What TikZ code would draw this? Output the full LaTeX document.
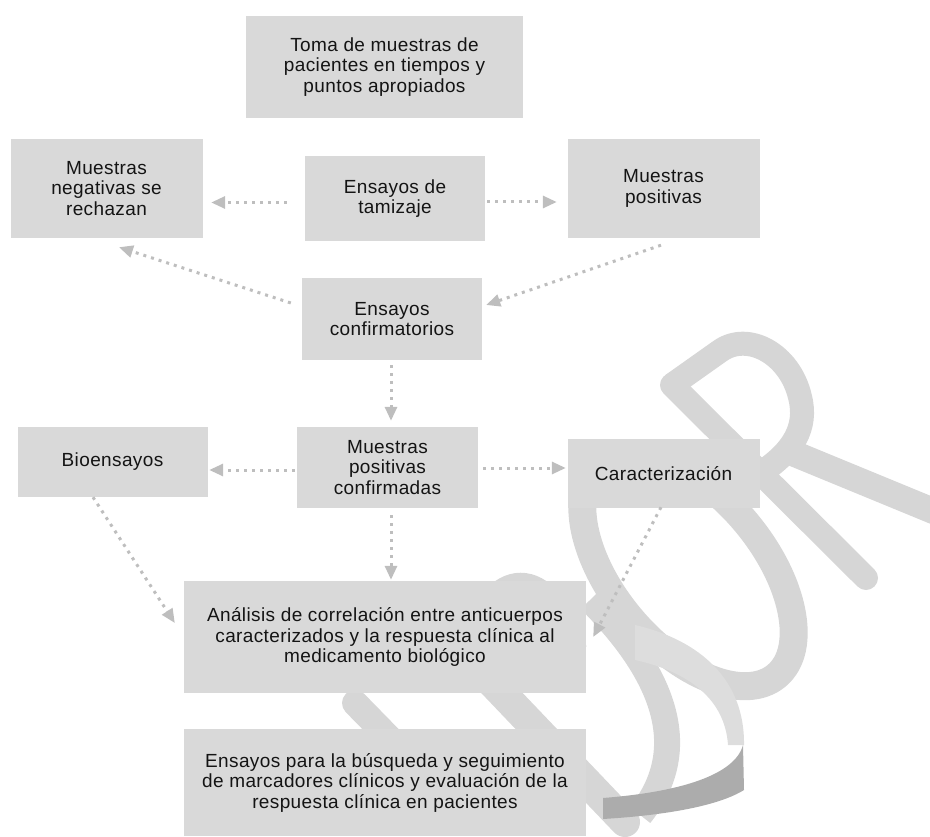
\documentclass[tikz,border=0pt]{standalone}
\usepackage{fontspec}
\setmainfont[LetterSpace=2]{Liberation Sans}
\usetikzlibrary{arrows.meta,calc}
\definecolor{boxgray}{RGB}{217,217,217}
\definecolor{arrgray}{RGB}{190,190,190}
\definecolor{wmgray}{RGB}{214,214,214}
\definecolor{wmlight}{RGB}{221,221,221}
\definecolor{wmdark}{RGB}{172,172,172}
\definecolor{txtcol}{RGB}{20,20,20}
\tikzset{
  box/.style={rectangle, fill=boxgray, inner sep=0pt, align=center, text=txtcol,
    font=\fontsize{19}{20.5}\selectfont},
  arr/.style={draw=arrgray, line width=3pt, dash pattern=on 3pt off 5pt,
    -{Triangle[length=14pt,width=12pt,fill=arrgray]}},
  wm/.style={draw=wmgray, line width=26pt}
}
\begin{document}
\begin{tikzpicture}[x=1pt,y=-1pt]
\useasboundingbox (0,0) rectangle (930,837);
% watermark
\begin{scope}
\clip (0,0) rectangle (930,837);
\draw[wm, line width=28pt, rotate around={-50:(688,570)}] (688,570) ellipse [x radius=138, y radius=75];
\draw[wm, line width=24pt, line cap=round] (672,385) -- (866,578);
\draw[wm, line width=24pt, line join=round] (672,385) -- (720,351) .. controls (748,331) and (790,354) .. (800,397) .. controls (808,428) and (792,452) .. (762,472);
\draw[wm, line width=26pt] (790,452) -- (960,522);
\draw[wm, line width=26pt, line cap=round] (355,703) -- (440,790);
\draw[wm, line width=30pt, line cap=round] (480,670) -- (625,822);
\draw[wm, line width=24pt] (470,650) .. controls (490,563) and (550,563) .. (575,650);
\draw[wm, line width=26pt] (590,600) .. controls (650,660) and (700,740) .. (640,815);
\fill[wmlight] (635,625) .. controls (700,640) and (745,680) .. (744,745) -- (728,745) .. controls (725,700) and (690,672) .. (635,660) -- cycle;
\fill[wmdark] (603,798) .. controls (680,792) and (735,775) .. (743,745) -- (744,790) .. controls (720,805) and (670,815) .. (603,819) -- cycle;
\end{scope}
% boxes
\node[box, minimum width=277pt, minimum height=102pt] (top) at (384.5,67) {Toma de muestras de\\pacientes en tiempos y\\puntos apropiados};
\node[box, minimum width=192pt, minimum height=99pt] (neg) at (106.5,188.5) {Muestras\\negativas se\\rechazan};
\node[box, minimum width=180pt, minimum height=85pt] (tam) at (395,198.5) {Ensayos de\\tamizaje};
\node[box, minimum width=192pt, minimum height=99pt] (pos) at (663.5,188.5) {Muestras\\positivas};
\node[box, minimum width=180pt, minimum height=82pt] (conf) at (392,319) {Ensayos\\confirmatorios};
\node[box, minimum width=190pt, minimum height=70pt] (bio) at (112.5,462) {Bioensayos};
\node[box, minimum width=181pt, minimum height=81pt] (mpc) at (387.5,467.5) {Muestras\\positivas\\confirmadas};
\node[box, minimum width=192pt, minimum height=69pt] (car) at (663.5,473.5) {Caracterización};
\node[box, minimum width=402pt, minimum height=112pt] (ana) at (385,637) {Análisis de correlación entre anticuerpos\\caracterizados y la respuesta clínica al\\medicamento biológico};
\node[box, minimum width=402pt, minimum height=107pt] (ens) at (385,782.5) {Ensayos para la búsqueda y seguimiento\\de marcadores clínicos y evaluación de la\\respuesta clínica en pacientes};
% arrows
\draw[arr] ($(tam.west)+(-18,4)$) -- ($(neg.east)+(8.5,14)$);
\draw[arr] ($(tam.east)+(2,3.5)$) -- ($(pos.west)+(-10.5,13.5)$);
\draw[arr] ($(pos.south)+(-2.5,7)$) -- ($(conf.east)+(4,-14)$);
\draw[arr] ($(conf.west)+(-11,-16)$) -- ($(neg.south)+(12.5,9)$);
\draw[arr] ($(conf.south)+(-1,5)$) -- ($(mpc.north)+(3.5,-6)$);
\draw[arr] ($(mpc.west)+(-2,2.5)$) -- ($(bio.east)+(1.5,8)$);
\draw[arr] ($(mpc.east)+(5,0.5)$) -- ($(car.west)+(-1.5,-5.5)$);
\draw[arr] ($(mpc.south)+(3.5,7)$) -- ($(ana.north)+(6,-1)$);
\draw[arr] ($(bio.south)+(-19.5,0)$) -- ($(ana.west)+(-9,-14)$);
\draw[arr] ($(car.south)+(-2.5,-1)$) -- ($(ana.east)+(7,0)$);
\end{tikzpicture}
\end{document}
